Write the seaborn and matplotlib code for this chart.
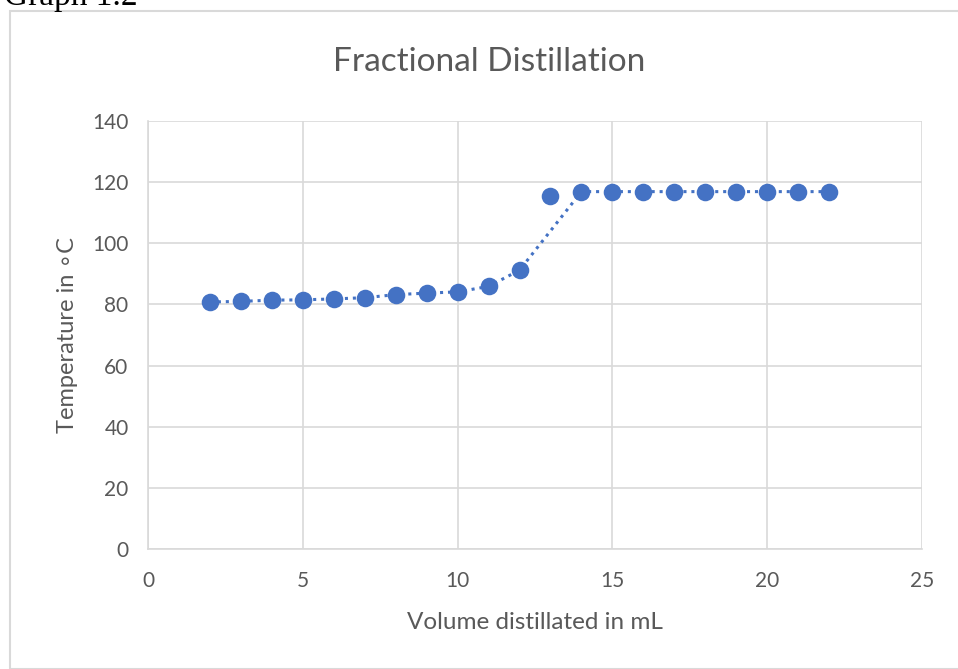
import matplotlib
matplotlib.use("Agg")
import matplotlib.pyplot as plt
import seaborn as sns
import pandas as pd
from matplotlib.patches import Rectangle

volume = [2, 3, 4, 5, 6, 7, 8, 9, 10, 11, 12, 13, 14, 15, 16, 17, 18, 19, 20, 21, 22]
temperature = [80.8, 81.0, 81.4, 81.5, 81.8, 82.2, 83.2, 83.7, 84.1, 85.9, 91.2, 115.6,
               116.9, 116.9, 116.9, 116.9, 116.9, 116.9, 116.9, 116.9, 116.9]
# trend line drawn through the points, skipping the outlier at 13 mL
line_volume = [2, 3, 4, 5, 6, 7, 8, 9, 10, 11, 12, 14, 15, 16, 17, 18, 19, 20, 21, 22]
line_temperature = [80.8, 81.0, 81.4, 81.5, 81.8, 82.2, 83.2, 83.7, 84.1, 85.9, 91.2,
                    116.9, 116.9, 116.9, 116.9, 116.9, 116.9, 116.9, 116.9, 116.9]
x_ticks = [0, 5, 10, 15, 20, 25]
y_ticks = [0, 20, 40, 60, 80, 100, 120, 140]

sns.set_theme(style="white")
plt.rcParams['font.family'] = ['Lato', 'DejaVu Sans']

W, H = 958, 669
fig = plt.figure(figsize=(W / 100, H / 100), dpi=100)
ax = fig.add_axes([148 / W, 1 - 549 / H, (922 - 148) / W, (549 - 121) / H])

blue = "#4472C4"
grey = "#595959"
df = pd.DataFrame({"v": volume, "t": temperature})
ldf = pd.DataFrame({"v": line_volume, "t": line_temperature})
sns.lineplot(data=ldf, x="v", y="t", ax=ax, color=blue, linestyle=(0, (1, 1.6)),
             linewidth=2.2, zorder=2)
sns.scatterplot(data=df, x="v", y="t", ax=ax, color=blue, s=160, edgecolor=blue,
                linewidth=0, zorder=3)

ax.set_xlim(0, 25)
ax.set_ylim(0, 140)
ax.set_xticks(x_ticks)
ax.set_yticks(y_ticks)
ax.grid(True, color="#d9d9d9", linewidth=1.2)
ax.set_axisbelow(True)
for s in ["top", "right"]:
    ax.spines[s].set_visible(False)
for s in ["left", "bottom"]:
    ax.spines[s].set_color("#d9d9d9")
    ax.spines[s].set_linewidth(1.2)
ax.tick_params(axis="both", length=0, labelsize=15, colors=grey)
ax.tick_params(axis="x", pad=16)
ax.tick_params(axis="y", pad=14)
ax.set_xlabel("Volume distillated in mL", fontsize=17.5, color=grey, labelpad=15)
ax.set_ylabel("Temperature in \u2218C", fontsize=17, color=grey, labelpad=10)
fig.text(489 / W, 1 - 62 / H, "Fractional Distillation", fontsize=24, color=grey,
         ha="center", va="center")

fig.patches.append(Rectangle((10 / W, 0), 1.0, 1 - 11 / H, transform=fig.transFigure,
                             fill=False, edgecolor="#d9d9d9", linewidth=1.5))
fig.text(4 / W, 1 - 5 / H, "Graph 1.2", fontsize=24, family=["Liberation Serif"],
         ha="left", va="baseline", color="black")

fig.savefig("out.png", dpi=100)
